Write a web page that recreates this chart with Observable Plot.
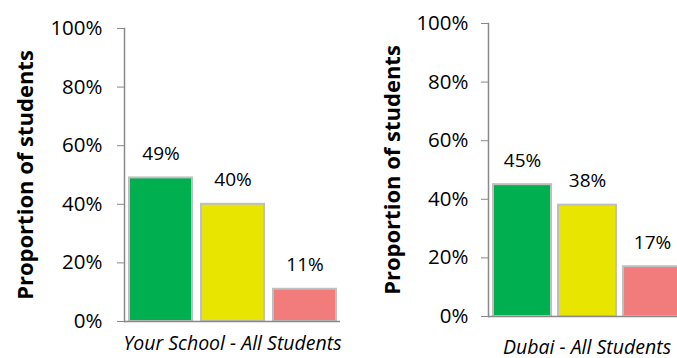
<!DOCTYPE html>
<html>
<head>
<meta charset="utf-8">
<script src="https://cdn.jsdelivr.net/npm/d3@7"></script>
<script src="https://cdn.jsdelivr.net/npm/@observablehq/plot@0.6"></script>
<style>
  html, body { margin: 0; padding: 0; background: #fff; }
  #wrap { position: relative; width: 677px; height: 358px; overflow: hidden; background: #fff; }
  #wrap > div, #wrap > svg { position: absolute; top: 0; }
  svg { overflow: visible; font-family: "Open Sans", sans-serif; }
</style>
</head>
<body>
<div id="wrap"></div>
<script>
// Data
const categories = ["Green", "Yellow", "Red"];
const colors = ["#00B050", "#E8E600", "#F27B7B"];
const schoolValues = [0.49, 0.40, 0.11];
const dubaiValues = [0.45, 0.38, 0.17];
const yTicks = [0, 0.2, 0.4, 0.6, 0.8, 1.0];
const yTitle = "Proportion of students";
const schoolLabel = "Your School - All Students";
const dubaiLabel = "Dubai - All Students";

function makeChart({values, label, width, marginLeft, marginTop, marginBottom, padding, paddingOuter, tickPadding, titleDx, labelDy}) {
  const data = categories.map((c, i) => ({cat: c, value: values[i], color: colors[i]}));
  const pct = d3.format(".0%");
  return Plot.plot({
    width,
    height: 358,
    marginLeft,
    marginRight: 0,
    marginTop,
    marginBottom,
    style: {fontFamily: "Open Sans, sans-serif", color: "#000", background: "transparent"},
    x: {domain: categories, paddingInner: padding, paddingOuter, axis: null},
    y: {domain: [0, 1], axis: null},
    marks: [
      Plot.barY(data, {x: "cat", y: "value", fill: "color", stroke: "#BFBFBF", strokeWidth: 2}),
      Plot.axisY({ticks: yTicks, tickSize: 7, text: null, stroke: "#898989", strokeOpacity: 1, label: null}),
      Plot.text(yTicks, {frameAnchor: "left", y: d => d, text: d => pct(d), dx: -(7 + tickPadding), textAnchor: "end", fontSize: 20.5, fill: "#000"}),
      Plot.frame({anchor: "left", stroke: "#898989", strokeWidth: 1.5}),
      Plot.ruleY([0], {stroke: "#898989", strokeWidth: 1.5}),
      Plot.text(data, {x: "cat", y: "value", text: d => pct(d.value), dy: -24, fontSize: 19, fill: "#000"}),
      Plot.text([yTitle], {frameAnchor: "left", dx: titleDx, rotate: -90, textAnchor: "middle", fontSize: 22, fontWeight: "bold", fill: "#000"}),
      Plot.text([label], {frameAnchor: "bottom", dy: labelDy, textAnchor: "middle", fontSize: 19.5, fontStyle: "italic", fill: "#000"})
    ]
  });
}

const left = makeChart({values: schoolValues, label: schoolLabel, width: 340, marginLeft: 124, marginTop: 28, marginBottom: 37, padding: 0.125, paddingOuter: 0.0625, tickPadding: 15, titleDx: -99, labelDy: 28});
const right = makeChart({values: dubaiValues, label: dubaiLabel, width: 345, marginLeft: 148, marginTop: 23, marginBottom: 42, padding: 0.115, paddingOuter: 0.07, tickPadding: 13, titleDx: -96, labelDy: 37});
left.style.left = "0px";
right.style.left = "340px";
document.getElementById("wrap").append(left, right);
</script>
</body>
</html>
